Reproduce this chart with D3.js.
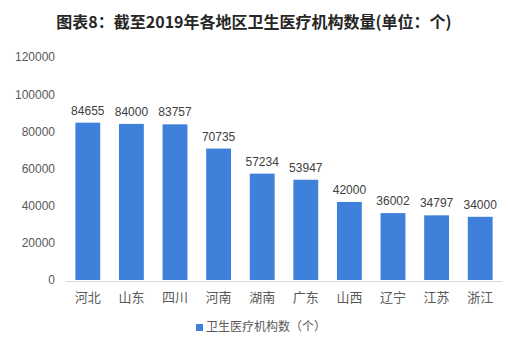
<!DOCTYPE html>
<html><head><meta charset="utf-8">
<script src="https://cdn.jsdelivr.net/npm/d3@7"></script>
<style>
body{margin:0;background:#fff;}
svg{display:block;font-family:"Microsoft YaHei","Noto Sans CJK SC","Liberation Sans",sans-serif;}
</style></head>
<body><svg id="c" width="509" height="347"></svg>
<script>
const categories = ["河北","山东","四川","河南","湖南","广东","山西","辽宁","江苏","浙江"];
const values = [84655,84000,83757,70735,57234,53947,42000,36002,34797,34000];
const yTicks = [0,20000,40000,60000,80000,100000,120000];
const seriesName = "卫生医疗机构数（个）";
const title = "图表8：截至2019年各地区卫生医疗机构数量(单位：个)";

const svg = d3.select("#c");
const m = {left:66, right:7, top:57, bottom:66};
const W = 509, H = 347;
const x = d3.scaleBand().domain(categories).range([m.left, W-m.right]).paddingInner(0.43).paddingOuter(0.215);
const y = d3.scaleLinear().domain([0,120000]).range([280, 57]);

svg.append("text").attr("x",254).attr("y",28).attr("text-anchor","middle")
  .attr("font-size",16).attr("font-weight","bold").attr("fill","#262626").text(title);

// y axis labels
const ya = svg.append("g").attr("transform",`translate(${m.left},0)`)
  .call(d3.axisLeft(y).tickValues(yTicks).tickSize(0).tickPadding(11).tickFormat(d3.format("d")));
ya.select(".domain").remove();
ya.selectAll("text").attr("font-size",12).attr("fill","#595959")
  .attr("font-family","'Liberation Sans',Arial,sans-serif");

// bars
svg.append("g").selectAll("rect").data(values).join("rect")
  .attr("x",(d,i)=>x(categories[i])).attr("width",x.bandwidth())
  .attr("y",d=>y(d)).attr("height",d=>y(0)-y(d)).attr("fill","#3E80DA");

// value labels
svg.append("g").selectAll("text").data(values).join("text")
  .attr("x",(d,i)=>x(categories[i])+x.bandwidth()/2).attr("y",d=>y(d)-8)
  .attr("text-anchor","middle").attr("font-size",12).attr("fill","#404040")
  .attr("font-family","'Liberation Sans',Arial,sans-serif").text(d=>d);

// x axis
const xa = svg.append("g").attr("transform",`translate(0,${y(0)+1})`)
  .call(d3.axisBottom(x).tickSize(0).tickPadding(12));
xa.select(".domain").attr("stroke","#d9d9d9").attr("d",`M${m.left},0.5H${W-m.right}`);
xa.selectAll("text").attr("font-size",13).attr("fill","#595959")
  .attr("font-family","'Noto Sans CJK SC',sans-serif");

// legend
const lg = svg.append("g").attr("transform","translate(196,327)");
lg.append("rect").attr("x",0).attr("y",-3).attr("width",7).attr("height",7).attr("fill","#3E80DA");
lg.append("text").attr("x",10).attr("y",0).attr("dy","0.35em").attr("font-size",12).attr("fill","#595959")
  .attr("font-family","'Noto Sans CJK SC',sans-serif").text(seriesName);
</script></body></html>
